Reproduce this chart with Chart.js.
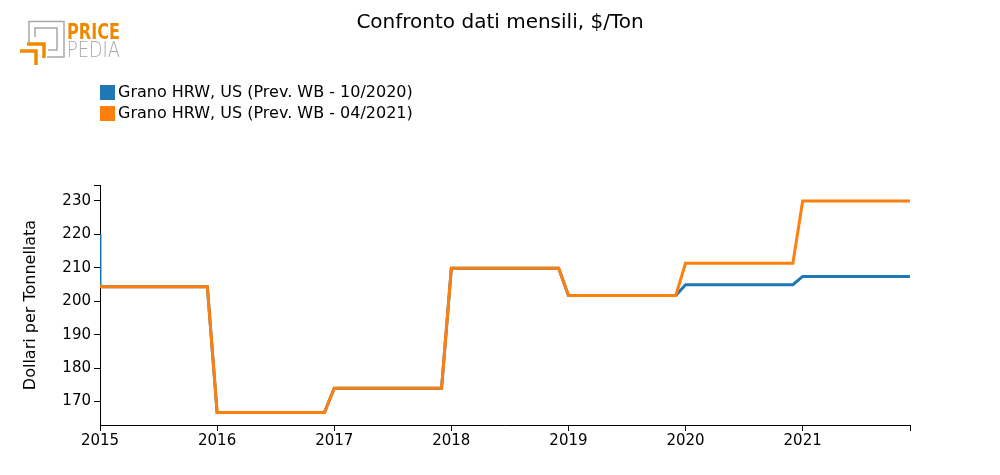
<!DOCTYPE html>
<html>
<head>
<meta charset="utf-8">
<script src="https://cdn.jsdelivr.net/npm/chart.js@4.4.1/dist/chart.umd.min.js"></script>
<style>
  html, body { margin: 0; padding: 0; background: #fff; }
  #wrap { width: 1000px; height: 475px; }
</style>
</head>
<body>
<div id="wrap"><canvas id="grafico" width="1000" height="475"></canvas></div>
<script>
// anni sull'asse x (un tick ogni gennaio)
var anni = [2015, 2016, 2017, 2018, 2019, 2020, 2021];

// Grano HRW, US (Prev. WB - 10/2020) - valori mensili, gen 2015 -> dic 2021
var prevOtt2020 = [
  204.3, 204.3, 204.3, 204.3, 204.3, 204.3, 204.3, 204.3, 204.3, 204.3, 204.3, 204.3,
  166.7, 166.7, 166.7, 166.7, 166.7, 166.7, 166.7, 166.7, 166.7, 166.7, 166.7, 166.7,
  174.0, 174.0, 174.0, 174.0, 174.0, 174.0, 174.0, 174.0, 174.0, 174.0, 174.0, 174.0,
  209.8, 209.8, 209.8, 209.8, 209.8, 209.8, 209.8, 209.8, 209.8, 209.8, 209.8, 209.8,
  201.7, 201.7, 201.7, 201.7, 201.7, 201.7, 201.7, 201.7, 201.7, 201.7, 201.7, 201.7,
  204.9, 204.9, 204.9, 204.9, 204.9, 204.9, 204.9, 204.9, 204.9, 204.9, 204.9, 204.9,
  207.4, 207.4, 207.4, 207.4, 207.4, 207.4, 207.4, 207.4, 207.4, 207.4, 207.4, 207.4
];
// primo valore della serie 10/2020 (picco iniziale sul bordo sinistro)
var prevOtt2020Inizio = 220;

// Grano HRW, US (Prev. WB - 04/2021)
var prevApr2021 = [
  204.3, 204.3, 204.3, 204.3, 204.3, 204.3, 204.3, 204.3, 204.3, 204.3, 204.3, 204.3,
  166.7, 166.7, 166.7, 166.7, 166.7, 166.7, 166.7, 166.7, 166.7, 166.7, 166.7, 166.7,
  174.0, 174.0, 174.0, 174.0, 174.0, 174.0, 174.0, 174.0, 174.0, 174.0, 174.0, 174.0,
  209.8, 209.8, 209.8, 209.8, 209.8, 209.8, 209.8, 209.8, 209.8, 209.8, 209.8, 209.8,
  201.7, 201.7, 201.7, 201.7, 201.7, 201.7, 201.7, 201.7, 201.7, 201.7, 201.7, 201.7,
  211.3, 211.3, 211.3, 211.3, 211.3, 211.3, 211.3, 211.3, 211.3, 211.3, 211.3, 211.3,
  229.9, 229.9, 229.9, 229.9, 229.9, 229.9, 229.9, 229.9, 229.9, 229.9, 229.9, 229.9
];

var nomi = ['Grano HRW, US (Prev. WB - 10/2020)', 'Grano HRW, US (Prev. WB - 04/2021)'];
var colori = ['#1f77b4', '#ff7f0e'];
var yTicks = [170, 180, 190, 200, 210, 220, 230];
var yMin = 163, yMax = 234.7;
var xMax = 83; // dicembre 2021

var FONT = "'DejaVu Sans', sans-serif";

function punti(valori) {
  return valori.map(function (v, i) { return { x: i, y: v }; });
}

var serie1 = [{ x: 0, y: prevOtt2020Inizio }].concat(punti(prevOtt2020));
var serie2 = punti(prevApr2021);

// testo compresso in orizzontale fino a una certa larghezza
function testoStretto(c, txt, x, y, w) {
  var m = c.measureText(txt).width;
  c.save();
  c.translate(x, y);
  c.scale(w / m, 1);
  c.fillText(txt, 0, 0);
  c.restore();
}

// titolo, legenda e logo disegnati a mano
var decorazioni = {
  id: 'decorazioni',
  afterDraw: function (chart) {
    var c = chart.ctx;
    c.save();
    // titolo
    c.fillStyle = '#000';
    c.font = '20px ' + FONT;
    c.textAlign = 'center';
    c.textBaseline = 'middle';
    c.fillText('Confronto dati mensili, $/Ton', 500, 23);

    // legenda
    c.font = '16px ' + FONT;
    c.textAlign = 'left';
    chart.data.datasets.forEach(function (ds, i) {
      var y = 85 + i * 21;
      c.fillStyle = ds.borderColor;
      c.fillRect(100, y, 15, 15);
      c.fillStyle = '#000';
      c.fillText(ds.label, 118, y + 8);
    });

    // logo PRICE PEDIA
    c.lineWidth = 1.5;
    c.strokeStyle = '#a8a8a8';
    c.beginPath();
    c.moveTo(29, 42); c.lineTo(29, 21.5); c.lineTo(64, 21.5); c.lineTo(64, 57); c.lineTo(47, 57);
    c.moveTo(35, 37); c.lineTo(35, 28); c.lineTo(57, 28); c.lineTo(57, 50); c.lineTo(48, 50);
    c.stroke();
    c.strokeStyle = '#ef8a00';
    c.lineWidth = 3.5;
    c.beginPath();
    c.moveTo(27, 44); c.lineTo(44, 44); c.lineTo(44, 58);
    c.moveTo(20, 51); c.lineTo(36, 51); c.lineTo(36, 65);
    c.stroke();
    c.textBaseline = 'alphabetic';
    c.font = 'bold 22px ' + FONT;
    c.fillStyle = '#ef8a00';
    testoStretto(c, 'PRICE', 67, 38.5, 53);
    c.font = '200 22px ' + FONT;
    c.fillStyle = '#a8a8a8';
    testoStretto(c, 'PEDIA', 67, 56.5, 53);
    c.restore();
  }
};

new Chart(document.getElementById('grafico'), {
  type: 'line',
  data: {
    datasets: [
      { label: nomi[0], data: serie1, borderColor: colori[0], backgroundColor: colori[0], order: 1 },
      { label: nomi[1], data: serie2, borderColor: colori[1], backgroundColor: colori[1], order: 0 }
    ]
  },
  options: {
    responsive: false,
    animation: false,
    devicePixelRatio: 1,
    layout: { padding: { top: 185, right: 90, left: 0, bottom: 0 } },
    elements: {
      line: { borderWidth: 3, tension: 0, fill: false },
      point: { radius: 0 }
    },
    plugins: {
      legend: { display: false },
      title: { display: false },
      tooltip: { enabled: false }
    },
    scales: {
      x: {
        type: 'linear',
        min: 0,
        max: xMax,
        border: { display: true, color: '#000', width: 1 },
        grid: { drawOnChartArea: false, drawTicks: true, tickLength: 6, color: '#000' },
        afterBuildTicks: function (s) {
          var t = anni.map(function (a, i) { return { value: i * 12 }; });
          t.push({ value: xMax });
          s.ticks = t;
        },
        ticks: {
          autoSkip: false,
          maxRotation: 0,
          padding: 1,
          color: '#000',
          font: { family: FONT, size: 15 },
          callback: function (v) {
            return v % 12 === 0 ? String(anni[v / 12]) : '';
          }
        },
        afterFit: function (s) { s.height = 50; }
      },
      y: {
        min: yMin,
        max: yMax,
        border: { display: true, color: '#000', width: 1 },
        grid: {
          drawOnChartArea: false,
          drawTicks: true,
          tickLength: 6,
          color: '#000'
        },
        afterBuildTicks: function (s) {
          var t = yTicks.map(function (v) { return { value: v }; });
          t.push({ value: yMax });
          s.ticks = t;
        },
        ticks: {
          autoSkip: false,
          padding: 3,
          color: '#000',
          font: { family: FONT, size: 15 },
          callback: function (v) {
            return yTicks.indexOf(v) >= 0 ? String(v) : '';
          }
        },
        title: {
          display: true,
          text: 'Dollari per Tonnellata',
          color: '#000',
          font: { family: FONT, size: 16 },
          padding: { top: 21, bottom: 0 }
        },
        afterFit: function (s) { s.width = 100; }
      }
    }
  },
  plugins: [decorazioni]
});
</script>
</body>
</html>
